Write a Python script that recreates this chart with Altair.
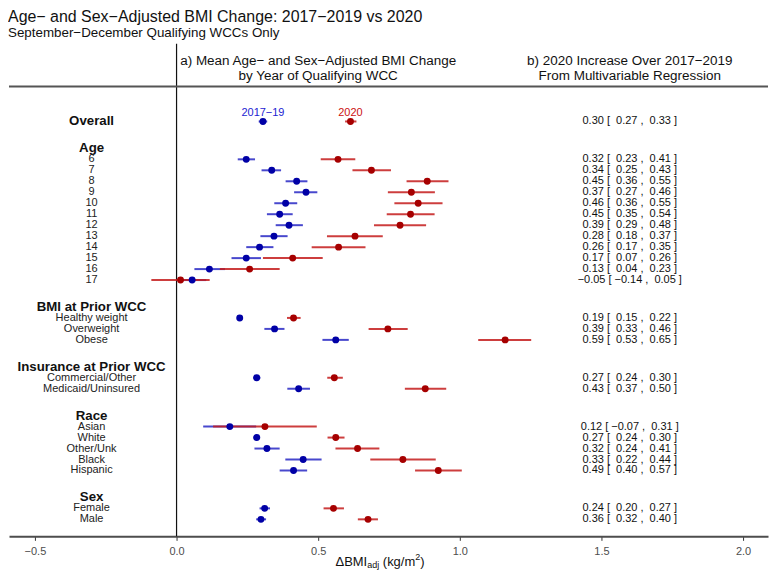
import altair as alt
import pandas as pd

FONT = "Liberation Sans"

# ---------------- data ----------------
overall_label = "Overall"
group_names = ["Age", "BMI at Prior WCC", "Insurance at Prior WCC", "Race", "Sex"]
group_items = [
    ["6", "7", "8", "9", "10", "11", "12", "13", "14", "15", "16", "17"],
    ["Healthy weight", "Overweight", "Obese"],
    ["Commercial/Other", "Medicaid/Uninsured"],
    ["Asian", "White", "Other/Unk", "Black", "Hispanic"],
    ["Female", "Male"],
]

# order: Overall, then every item of every group
pre_mean = [0.305, 0.246, 0.336, 0.424, 0.457, 0.385, 0.364, 0.397, 0.344, 0.293, 0.246, 0.116, 0.055,
            0.223, 0.346, 0.562, 0.283, 0.431, 0.188, 0.283, 0.319, 0.447, 0.413, 0.311, 0.298]
pre_lo = [0.290, 0.216, 0.300, 0.385, 0.415, 0.345, 0.319, 0.350, 0.296, 0.246, 0.194, 0.063, 0.005,
          0.213, 0.310, 0.515, 0.270, 0.391, 0.094, 0.271, 0.275, 0.384, 0.364, 0.293, 0.281]
pre_hi = [0.320, 0.277, 0.369, 0.462, 0.497, 0.426, 0.410, 0.446, 0.392, 0.342, 0.298, 0.171, 0.105,
          0.233, 0.381, 0.608, 0.296, 0.471, 0.281, 0.295, 0.364, 0.512, 0.461, 0.330, 0.316]
post_mean = [0.614, 0.570, 0.688, 0.885, 0.829, 0.853, 0.826, 0.789, 0.630, 0.572, 0.410, 0.258, 0.014,
             0.413, 0.746, 1.160, 0.557, 0.878, 0.312, 0.562, 0.639, 0.799, 0.924, 0.554, 0.676]
post_lo = [0.595, 0.509, 0.621, 0.812, 0.746, 0.769, 0.742, 0.697, 0.531, 0.477, 0.305, 0.153, -0.089,
           0.390, 0.678, 1.065, 0.532, 0.806, 0.129, 0.533, 0.561, 0.684, 0.842, 0.519, 0.640]
post_hi = [0.635, 0.631, 0.757, 0.960, 0.912, 0.939, 0.911, 0.881, 0.728, 0.667, 0.516, 0.364, 0.117,
           0.438, 0.816, 1.252, 0.587, 0.952, 0.495, 0.593, 0.716, 0.915, 1.007, 0.591, 0.711]

reg_est = [0.30, 0.32, 0.34, 0.45, 0.37, 0.46, 0.45, 0.39, 0.28, 0.26, 0.17, 0.13, -0.05,
           0.19, 0.39, 0.59, 0.27, 0.43, 0.12, 0.27, 0.32, 0.33, 0.49, 0.24, 0.36]
reg_lo = [0.27, 0.23, 0.25, 0.36, 0.27, 0.36, 0.35, 0.29, 0.18, 0.17, 0.07, 0.04, -0.14,
          0.15, 0.33, 0.53, 0.24, 0.37, -0.07, 0.24, 0.24, 0.22, 0.40, 0.20, 0.32]
reg_hi = [0.33, 0.41, 0.43, 0.55, 0.46, 0.55, 0.54, 0.48, 0.37, 0.35, 0.26, 0.23, 0.05,
          0.22, 0.46, 0.65, 0.30, 0.50, 0.31, 0.30, 0.41, 0.44, 0.57, 0.27, 0.40]

period_names = ["2017\u221219", "2020"]
header_a = ["a) Mean Age\u2212 and Sex\u2212Adjusted BMI Change", "by Year of Qualifying WCC"]
header_b = ["b) 2020 Increase Over 2017\u22122019", "From Multivariable Regression"]
title_text = "Age\u2212 and Sex\u2212Adjusted BMI Change: 2017\u22122019 vs 2020"
subtitle_text = "September\u2212December Qualifying WCCs Only"
x_ticks = [-0.5, 0.0, 0.5, 1.0, 1.5, 2.0]

# ---------------- layout (row units) ----------------
GROUP_GAP = 2.45
label_rows = [(overall_label, 0.0, True)]
data_rows = [0.0]
y = 0.0
for g, items in zip(group_names, group_items):
    y += GROUP_GAP
    label_rows.append((g, y, True))
    for it in items:
        y += 1.0
        label_rows.append((it, y, False))
        data_rows.append(y)

Y_TOP = -7.09
Y_BOT = y + 1.55
ROW_PX = 11.0
W = 761
H = round((Y_BOT - Y_TOP) * ROW_PX)
X_MIN = (8 - 176) / 284
X_MAX = (769 - 176) / 284
LABEL_X = -0.3
REG_X = 1.6
HEAD_A_X = 0.5

xs = alt.Scale(domain=[X_MIN, X_MAX], nice=False, zero=False)
ys = alt.Scale(domain=[Y_TOP, Y_BOT], reverse=True, nice=False, zero=False)

NB = "\u00a0"


def f2(v):
    return f"{v:.2f}".replace("-", "\u2212")


def pad(v):
    s = f2(v)
    return NB * (2 if v >= 0 else 1) + s


reg_text = [f"{f2(e)}{NB}[{pad(l)}{NB},{pad(h)}{NB}]" for e, l, h in zip(reg_est, reg_lo, reg_hi)]

colors = ["#0000A6", "#A60000"]
line_colors = ["#2828C4", "#C41C1C"]
label_colors = ["#2323D2", "#CC1111"]

# point table (long)
rows = []
for i, yy in enumerate(data_rows):
    rows.append(dict(y=yy, period=period_names[0], m=pre_mean[i], lo=pre_lo[i], hi=pre_hi[i], order=0))
    rows.append(dict(y=yy, period=period_names[1], m=post_mean[i], lo=post_lo[i], hi=post_hi[i], order=1))
pts = pd.DataFrame(rows)

labels_df = pd.DataFrame([dict(text=t, y=yy, bold=b) for t, yy, b in label_rows])
reg_df = pd.DataFrame(dict(text=reg_text, y=data_rows))

head_df = pd.DataFrame(dict(
    text=header_a + header_b,
    x=[HEAD_A_X, HEAD_A_X, REG_X, REG_X],
    y=[-5.55, -4.18, -5.55, -4.18],
))

leg_df = pd.DataFrame(dict(text=period_names, x=[pre_mean[0], post_mean[0]], y=[-0.73, -0.73]))

cscale = alt.Scale(domain=period_names, range=colors)
lscale = alt.Scale(domain=period_names, range=line_colors)
tscale = alt.Scale(domain=period_names, range=label_colors)

base_x_axis = alt.Axis(values=x_ticks, format=".1f", title=None, grid=False,
                       domainColor="#4D4D4D", domainWidth=2, tickColor="#333333", tickSize=4,
                       tickWidth=1, labelFontSize=11, labelColor="#4D4D4D", labelPadding=5,
                       labelFont=FONT)

vline = alt.Chart(pd.DataFrame({"v": [0.0]})).mark_rule(color="#111111", strokeWidth=1.2).encode(
    x=alt.X("v:Q", scale=xs, axis=base_x_axis),
    y=alt.value(0), y2=alt.value(H),
)

hrule = alt.Chart(pd.DataFrame({"h": [-3.18]})).mark_rule(color="#555555", strokeWidth=2).encode(
    x=alt.value(0), x2=alt.value(W),
    y=alt.Y("h:Q", scale=ys, axis=None),
)

heads = alt.Chart(head_df).mark_text(font=FONT, fontSize=13.5, color="#111111", baseline="middle").encode(
    x=alt.X("x:Q", scale=xs), y=alt.Y("y:Q", scale=ys, axis=None), text="text:N")

lab_bold = alt.Chart(labels_df[labels_df.bold]).mark_text(
    font=FONT, fontSize=13.3, fontWeight="bold", color="#111111", baseline="middle").encode(
    x=alt.datum(LABEL_X), y=alt.Y("y:Q", scale=ys, axis=None), text="text:N")

lab_item = alt.Chart(labels_df[~labels_df.bold]).mark_text(
    font=FONT, fontSize=11, color="#222222", baseline="middle").encode(
    x=alt.datum(LABEL_X), y=alt.Y("y:Q", scale=ys, axis=None), text="text:N")

bars = alt.Chart(pts).mark_rule(strokeWidth=2, opacity=0.85).encode(
    x=alt.X("lo:Q", scale=xs), x2="hi:Q",
    y=alt.Y("y:Q", scale=ys, axis=None),
    color=alt.Color("period:N", scale=lscale, legend=None),
    order="order:Q",
)

dots = alt.Chart(pts).mark_circle(size=48, opacity=1).encode(
    x=alt.X("m:Q", scale=xs),
    y=alt.Y("y:Q", scale=ys, axis=None),
    color=alt.Color("period:N", scale=cscale, legend=None),
    order="order:Q",
)

leg = alt.Chart(leg_df).mark_text(font=FONT, fontSize=11, baseline="middle").encode(
    x=alt.X("x:Q", scale=xs), y=alt.Y("y:Q", scale=ys, axis=None), text="text:N",
    color=alt.Color("text:N", scale=tscale, legend=None),
)

reg = alt.Chart(reg_df).mark_text(font=FONT, fontSize=11, color="#111111", baseline="middle").encode(
    x=alt.datum(REG_X), y=alt.Y("y:Q", scale=ys, axis=None), text="text:N")

# x-axis title built from pieces (sub/superscript)
pieces = [("\u0394BMI", 13, 0), ("adj", 9, 3), ("(kg/m", 13, 0), ("2", 9, -5), (")", 13, 0)]
advance = [31.8, 15.6, 32.5, 5.0, 4.3]
start = 380 - 8 - sum(advance) / 2
ax_layers = []
cx = start
for (t, fs, dy), w in zip(pieces, advance):
    ax_layers.append(
        alt.Chart(pd.DataFrame({"t": [t]})).mark_text(
            font=FONT, fontSize=fs, color="#111111", align="left", baseline="middle", dy=dy
        ).encode(x=alt.value(cx), y=alt.value(H + 26), text="t:N")
    )
    cx += w

chart = alt.layer(vline, hrule, heads, lab_bold, lab_item, bars, dots, leg, reg, *ax_layers).resolve_scale(
    color="independent"
).properties(
    width=W, height=H,
    padding=0,
    title=alt.TitleParams(text=title_text, subtitle=subtitle_text, anchor="start", font=FONT,
                          fontSize=16, fontWeight="normal", color="#111111",
                          subtitleFont=FONT, subtitleFontSize=13.4, subtitleColor="#111111",
                          subtitlePadding=1, offset=4),
).configure_view(stroke=None)

chart.save("out.html", embed_options={"renderer": "svg", "actions": False})
